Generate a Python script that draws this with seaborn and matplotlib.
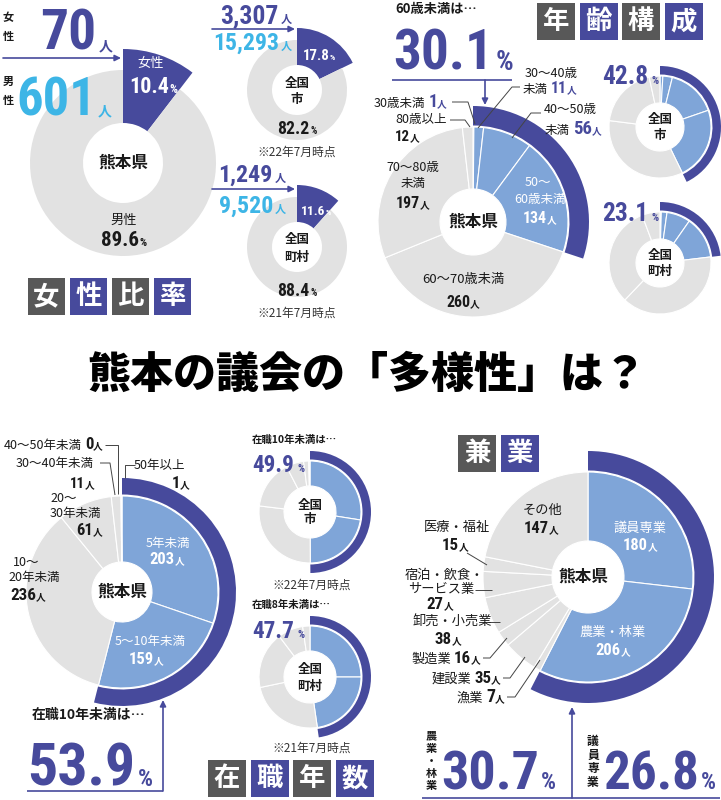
import matplotlib
matplotlib.use('Agg')
import matplotlib.pyplot as plt
from matplotlib.patches import Rectangle
import seaborn as sns

# ---- data (人数 / 推定%) ----
sex_labels = ['女性', '男性']
kumamoto_sex = [70, 601]
city_sex = [3307, 15293]
town_sex = [1249, 9520]

age_labels = ['30歳未満', '30～40歳未満', '40～50歳未満', '50～60歳未満',
              '60～70歳未満', '70～80歳未満', '80歳以上']
kumamoto_age = [1, 11, 56, 134, 260, 197, 12]
city_age = [0.9, 3.0, 15.8, 23.1, 34.2, 19.6, 3.4]
town_age = [0.4, 1.8, 7.5, 13.4, 39.0, 32.2, 5.7]

tenure_labels = ['5年未満', '5～10年未満', '10～20年未満', '20～30年未満',
                 '30～40年未満', '40～50年未満', '50年以上']
kumamoto_tenure = [203, 159, 236, 61, 11, 0, 1]
city_tenure = [27.5, 22.4, 27.0, 15.5, 5.6, 1.6, 0.4]
town_tenure = [25.0, 22.7, 24.0, 18.0, 8.0, 2.3]

job_labels = ['議員専業', '農業・林業', '漁業', '建設業', '製造業', '卸売・小売業',
              '宿泊・飲食・サービス業', '医療・福祉', 'その他']
kumamoto_job = [180, 206, 7, 35, 16, 38, 27, 15, 147]

# ---- style ----
sns.set_theme(style='white')
JP = ['Noto Sans CJK JP', 'DejaVu Sans']
NUM = ['Roboto Condensed', 'Liberation Sans Narrow', 'Roboto', 'DejaVu Sans']
plt.rcParams['font.family'] = JP

NAVY = '#474a9c'
LIGHT = '#7fa5d8'
GRAY = '#e2e2e2'
CYAN = '#3db5e6'
BOX = '#585858'
INK = '#1a1a1a'
W, H = 721, 800

fig = plt.figure(figsize=(7.21, 8), dpi=100)
ax = fig.add_axes([0, 0, 1, 1])
R = fig.canvas.get_renderer()


def pct(vals, n=1):
    return 100 * sum(vals[:n]) / sum(vals)


def label(x, y, s, size=9.5, color=INK, weight='normal', ha='center', ls=1.2):
    ax.text(x, H - y, s, fontsize=size, color=color, fontweight=weight,
            family=JP, ha=ha, va='center', linespacing=ls, multialignment='center')


def big(s, size, color=NAVY, maxw=None):
    return (s, size, color, 'bold', NUM, maxw)


def jp(s, size=7, color=INK, weight='bold'):
    return (s, size, color, weight, JP, None)


def run(x, y, parts, ha='left'):
    # pieces of text on one baseline (y), placed side by side
    items, tot = [], 0
    for p in parts:
        if isinstance(p, (int, float)):
            items.append((None, p))
            tot += p
            continue
        s, size, color, weight, fam, maxw = p
        t = ax.text(0, H - y, s, fontsize=size, color=color, fontweight=weight,
                    family=fam, ha='left', va='baseline')
        w = t.get_window_extent(renderer=R).width
        if maxw and w > maxw:
            t.set_fontsize(size * maxw / w)
            w = t.get_window_extent(renderer=R).width
        items.append((t, w))
        tot += w
    x0 = x - {'left': 0, 'center': tot / 2, 'right': tot}[ha]
    for t, w in items:
        if t is not None:
            t.set_x(x0)
        x0 += w


def line(pts, color='#444444', lw=0.7):
    ax.plot([p[0] for p in pts], [H - p[1] for p in pts], color=color, lw=lw,
            solid_capstyle='butt')


def arrow(p0, p1):
    ax.annotate('', xy=(p1[0], H - p1[1]), xytext=(p0[0], H - p0[1]),
                arrowprops=dict(arrowstyle='-|>', color=NAVY, lw=1.2,
                                mutation_scale=9, shrinkA=0, shrinkB=0))


def boxes(x, y, chars, w=38, h=37, gap=4.5):
    for i, ch in enumerate(chars):
        c = BOX if i % 2 == 0 else NAVY
        x0 = x + i * (w + gap)
        ax.add_patch(Rectangle((x0, H - y - h), w, h, color=c, lw=0))
        label(x0 + w / 2, y + h / 2, ch, 19, 'white', 'bold')


def donut(cx, cy, vals, n_hi, r, hole, ring):
    cols = [LIGHT] * n_hi + [GRAY] * (len(vals) - n_hi)
    c = (cx, H - cy)
    ax.pie(vals, colors=cols, radius=r, center=c, startangle=90,
           counterclock=False,
           wedgeprops=dict(width=r - hole, edgecolor='white', linewidth=0.8))
    hi, lo = sum(vals[:n_hi]), sum(vals[n_hi:])
    ax.pie([hi, lo], colors=[NAVY, 'none'], radius=ring, center=c,
           startangle=90, counterclock=False,
           wedgeprops=dict(width=ring - r - 1.5, linewidth=0))


def sex_donut(cx, cy, vals, r, rf, hole):
    c = (cx, H - cy)
    ax.pie(vals, colors=[NAVY, 'none'], radius=rf, center=c, startangle=90,
           counterclock=False, wedgeprops=dict(width=rf - hole, linewidth=0))
    ax.pie(vals, colors=['none', GRAY], radius=r, center=c, startangle=90,
           counterclock=False, wedgeprops=dict(width=r - hole, linewidth=0))


# ================= 女性比率 =================
sex_donut(123, 163, kumamoto_sex, 93, 114, 40)
label(8, 27, '女\n性', 8, INK, 'bold', ls=1.6)
label(8, 91, '男\n性', 8, INK, 'bold', ls=1.6)
run(40, 50, [big(f'{kumamoto_sex[0]}', 42, NAVY, 56), 3, jp('人', 10, NAVY)])
run(16, 115, [big(f'{kumamoto_sex[1]}', 42, CYAN, 80), 2, jp('人', 10, CYAN)])
arrow((3, 58), (121, 58))
label(151, 63, sex_labels[0], 9.5, 'white')
run(153, 93, [big(f'{pct(kumamoto_sex):.1f}', 19, 'white', 40), big('%', 9, 'white')], 'center')
label(123, 163, '熊本県', 12, INK, 'bold')
label(124, 220, sex_labels[1], 9.5)
run(124, 246, [big(f'{100 - pct(kumamoto_sex):.1f}', 16, INK, 38), big('%', 8, INK)], 'center')
boxes(28, 278, '女性比率', w=37, gap=5)

# 全国市
sex_donut(297, 90, city_sex, 50, 62, 25)
run(292, 23, [big(f'{city_sex[0]:,}', 20, NAVY, 58), 2, jp('人', 8, NAVY)], 'right')
arrow((212, 29), (295, 29))
run(292, 50, [big(f'{city_sex[1]:,}', 20, CYAN, 66), 2, jp('人', 8, CYAN)], 'right')
run(319, 60, [big(f'{pct(city_sex):.1f}', 13, 'white', 27), big('%', 6, 'white')], 'center')
label(297, 83, '全国', 9, INK, 'bold')
label(297, 99, '市', 9, INK, 'bold')
run(297, 134, [big(f'{100 - pct(city_sex):.1f}', 15, INK, 32), 1, big('%', 7, INK)], 'center')
label(297, 152, '※22年7月時点', 8.5, '#333333')

# 全国町村
sex_donut(297, 247, town_sex, 50, 62, 25)
run(286, 182, [big(f'{town_sex[0]:,}', 19, NAVY, 54), 2, jp('人', 8, NAVY)], 'right')
arrow((212, 189), (295, 189))
run(286, 213, [big(f'{town_sex[1]:,}', 19, CYAN, 54), 2, jp('人', 8, CYAN)], 'right')
run(316, 215, [big(f'{pct(town_sex):.1f}', 12, 'white', 24), big('%', 6, 'white')], 'center')
label(297, 240, '全国', 9, INK, 'bold')
label(297, 257, '町村', 9, INK, 'bold')
run(297, 296, [big(f'{100 - pct(town_sex):.1f}', 15, INK, 32), 1, big('%', 7, INK)], 'center')
label(297, 313, '※21年7月時点', 8.5, '#333333')

# ================= 年齢構成 =================
donut(473, 222, kumamoto_age, 4, 95, 33, 116)
label(436, 9, '60歳未満は…', 9.5, INK, 'bold')
run(393, 70, [big(f'{pct(kumamoto_age, 4):.1f}', 44, NAVY, 100), 3, big('%', 20)])
line([(392, 80), (512, 80)], NAVY, 1.2)
arrow((485, 80), (485, 105))
run(447, 107, [jp('30歳未満', 9, INK, 'normal'), 3, big(str(kumamoto_age[0]), 13, NAVY, 9), jp('人', 7, NAVY)], 'right')
line([(452, 102), (468, 102), (475, 124)])
label(421, 120, '80歳以上', 9)
line([(450, 120), (465, 120), (470, 127)])
run(395, 141, [big(str(kumamoto_age[6]), 13, INK, 15), jp('人')])
label(551, 73, '30～40歳', 9)
run(523, 93, [jp('未満', 9, INK, 'normal'), 3, big(str(kumamoto_age[1]), 14, NAVY, 16), jp('人', 7, NAVY)])
line([(520, 87), (512, 87), (478, 128)])
label(570, 109, '40～50歳', 9)
run(545, 134, [jp('未満', 9, INK, 'normal'), 3, big(str(kumamoto_age[2]), 15, NAVY, 19), jp('人', 7, NAVY)])
line([(541, 113), (531, 113), (512, 138)])
label(538, 182, '50～', 9, 'white')
label(540, 200, '60歳未満', 9, 'white')
run(540, 223, [big(str(kumamoto_age[3]), 13, 'white', 24), jp('人', 7, 'white')], 'center')
label(413, 168, '70～80歳', 9)
label(413, 184, '未満', 9)
run(413, 208, [big(str(kumamoto_age[5]), 13, INK, 24), jp('人')], 'center')
label(473, 222, '熊本県', 12, INK, 'bold')
label(463, 280, '60～70歳未満', 9.5)
run(463, 307, [big(str(kumamoto_age[4]), 13, INK, 24), jp('人')], 'center')
boxes(537, 3, '年齢構成')

donut(660, 127, city_age, 4, 51, 24, 61)
run(602, 84, [big(f'{sum(city_age[:4]):.1f}', 21, NAVY, 46), 3, big('%', 8)])
label(660, 119, '全国', 9, INK, 'bold')
label(660, 135, '市', 9, INK, 'bold')
donut(660, 263, town_age, 4, 51, 24, 61)
run(602, 221, [big(f'{sum(town_age[:4]):.1f}', 21, NAVY, 46), 3, big('%', 8)])
label(660, 255, '全国', 9, INK, 'bold')
label(660, 271, '町村', 9, INK, 'bold')

# ================= タイトル =================
label(367, 375, '熊本の議会の「多様性」は？', 31, '#000000', 'heavy')

# ================= 在職年数 =================
donut(122, 592, kumamoto_tenure, 2, 96, 30, 114)
run(103, 449, [jp('40～50年未満', 9, INK, 'normal'), 3, big(str(kumamoto_tenure[5]), 12, INK, 9), jp('人')], 'right')
line([(105, 445), (118, 445), (118, 494)])
label(55, 463, '30～40年未満', 9)
line([(100, 463), (110, 463), (115, 495)])
run(95, 488, [big(str(kumamoto_tenure[4]), 12, INK, 15), jp('人')], 'right')
label(159, 465, '50年以上', 9)
line([(135, 465), (125, 465), (125, 478)])
run(190, 488, [big(str(kumamoto_tenure[6]), 12, INK, 9), jp('人')], 'right')
label(50, 498, '20～', 9, ha='left')
label(50, 513, '30年未満', 9, ha='left')
run(103, 535, [big(str(kumamoto_tenure[3]), 12, INK, 17), jp('人')], 'right')
label(13, 563, '10～', 9, ha='left')
label(8, 578, '20年未満', 9, ha='left')
run(10, 600, [big(str(kumamoto_tenure[2]), 13, INK, 26), jp('人')])
label(168, 543, '5年未満', 9, 'white')
run(167, 564, [big(str(kumamoto_tenure[0]), 13, 'white', 25), jp('人', 7, 'white')], 'center')
label(150, 642, '5～10年未満', 9, 'white')
run(146, 664, [big(str(kumamoto_tenure[1]), 13, 'white', 25), jp('人', 7, 'white')], 'center')
label(122, 592, '熊本県', 12, INK, 'bold')
label(32, 715, '在職10年未満は…', 10, INK, 'bold', ha='left')
run(27, 786, [big(f'{pct(kumamoto_tenure, 2):.1f}', 46, NAVY, 108), 3, big('%', 17)])
line([(27, 791), (163, 791)], NAVY, 1.2)
arrow((163, 791), (163, 700))

label(252, 440, '在職10年未満は…', 7.5, INK, 'bold', ha='left')
run(252, 472, [big(f'{sum(city_tenure[:2]):.1f}', 19, NAVY, 42), 4, big('%', 8)])
donut(310, 512, city_tenure, 2, 51, 26, 61)
label(310, 505, '全国', 9, INK, 'bold')
label(310, 520, '市', 9, INK, 'bold')
label(312, 585, '※22年7月時点', 8.5, '#333333')
label(252, 605, '在職8年未満は…', 7.5, INK, 'bold', ha='left')
run(252, 638, [big(f'{sum(town_tenure[:2]):.1f}', 19, NAVY, 42), 4, big('%', 8)])
donut(310, 677, town_tenure, 2, 51, 26, 61)
label(310, 670, '全国', 9, INK, 'bold')
label(310, 686, '町村', 9, INK, 'bold')
label(312, 748, '※21年7月時点', 8.5, '#333333')
boxes(208, 760, '在職年数')

# ================= 兼業 =================
boxes(458, 435, '兼業')
donut(588, 577, kumamoto_job, 2, 105, 36, 126)
label(543, 510, job_labels[8], 9.5)
run(541, 533, [big(str(kumamoto_job[8]), 13, INK, 25), jp('人')], 'center')
label(457, 527, job_labels[7], 9.5)
run(455, 550, [big(str(kumamoto_job[7]), 13, INK, 17), jp('人')], 'center')
line([(467, 553), (487, 565)])
label(444, 575, '宿泊・飲食・', 9.5)
label(441, 590, 'サービス業', 9.5)
line([(475, 590), (492, 590)])
run(440, 609, [big(str(kumamoto_job[6]), 13, INK, 17), jp('人')], 'center')
label(452, 622, job_labels[5], 9.5)
line([(488, 622), (500, 622)])
run(448, 644, [big(str(kumamoto_job[5]), 13, INK, 17), jp('人')], 'center')
run(481, 663, [jp(job_labels[4], 9.5, INK, 'normal'), 3, big(str(kumamoto_job[4]), 13, INK, 17), jp('人')], 'right')
line([(483, 658), (490, 658), (507, 638)])
run(501, 683, [jp(job_labels[3], 9.5, INK, 'normal'), 3, big(str(kumamoto_job[3]), 13, INK, 17), jp('人')], 'right')
line([(503, 678), (510, 678), (525, 657)])
run(505, 702, [jp(job_labels[2], 9.5, INK, 'normal'), 3, big(str(kumamoto_job[2]), 13, INK, 9), jp('人')], 'right')
line([(507, 697), (515, 697), (540, 660)])
label(640, 528, job_labels[0], 9.5, 'white')
run(640, 550, [big(str(kumamoto_job[0]), 13, 'white', 25), jp('人', 7, 'white')], 'center')
label(613, 632, job_labels[1], 9.5, 'white')
run(613, 655, [big(str(kumamoto_job[1]), 13, 'white', 25), jp('人', 7, 'white')], 'center')
label(583, 577, '熊本県', 12, INK, 'bold')

label(431, 761, '農\n業\n・\n林\n業', 8, INK, 'bold', ls=0.95)
label(593, 762, '議\n員\n専\n業', 8.5, INK, 'bold', ls=1.05)
run(441, 789, [big(f'{pct(kumamoto_job[1:2] + kumamoto_job[:1] + kumamoto_job[2:]):.1f}', 42, NAVY, 98), 2, big('%', 17)])
run(603, 789, [big(f'{pct(kumamoto_job):.1f}', 42, NAVY, 96), 2, big('%', 17)])
line([(422, 798), (720, 798)], NAVY, 1.2)
arrow((572, 798), (572, 707))

ax.set_xlim(0, W)
ax.set_ylim(0, H)
ax.set_aspect('equal')
ax.axis('off')
fig.savefig('out.png', dpi=100, facecolor='white')
